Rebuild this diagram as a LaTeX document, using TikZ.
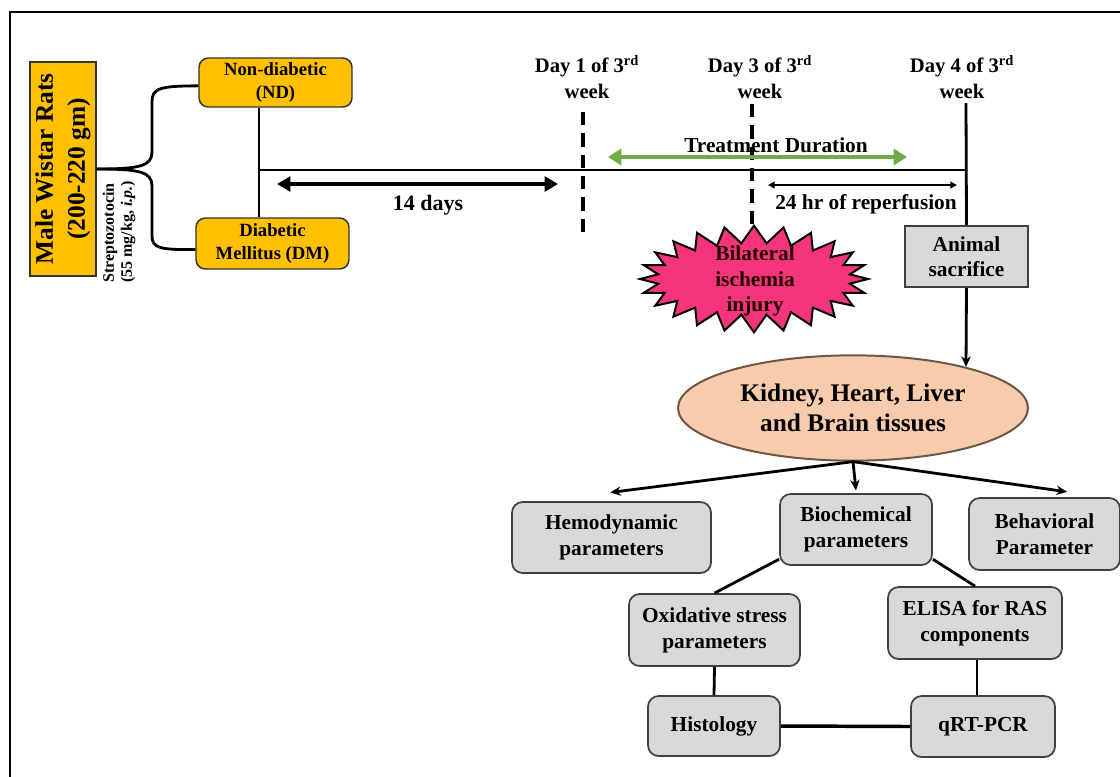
\documentclass[tikz,border=0pt]{standalone}
\usepackage{fontspec}
\setmainfont{Liberation Serif}
\usetikzlibrary{arrows.meta,shapes.geometric,shapes.symbols,calc}
\definecolor{ylw}{HTML}{FFC000}
\definecolor{boxgray}{HTML}{D9D9D9}
\definecolor{peach}{HTML}{F8CBAD}
\definecolor{peachline}{HTML}{6E5646}
\definecolor{burst}{HTML}{F5357A}
\definecolor{tgreen}{HTML}{70AD47}
\begin{document}
\begin{tikzpicture}[x=0.75pt,y=-0.75pt,
  ybox/.style={draw=black!80, fill=ylw, line width=1.1pt, rounded corners=7pt, inner sep=0pt, align=center, font=\fontsize{14}{17}\selectfont\bfseries},
  gbox/.style={draw=black!75, fill=boxgray, line width=1.3pt, rounded corners=8pt, inner sep=0pt, align=center, font=\fontsize{16}{19.5}\selectfont\bfseries},
  lbl/.style={align=center, inner sep=0pt, font=\fontsize{16}{19}\selectfont\bfseries},
  conn/.style={line width=2.1pt},
  dashln/.style={line width=2.5pt, dash pattern=on 10pt off 6pt},
  bigarrow/.style={line width=3pt, {Triangle[length=10pt,width=11pt]}-{Triangle[length=10pt,width=11pt]}},
  grarrow/.style={line width=3.2pt, draw=tgreen, {Triangle[length=10pt,width=12pt]}-{Triangle[length=10pt,width=12pt]}},
  thinarrow/.style={line width=1.3pt, {Triangle[length=5pt,width=5pt]}-{Triangle[length=5pt,width=5pt]}},
  downarrow/.style={line width=2.1pt, -{Stealth[length=8pt,width=7pt]}}
]
\useasboundingbox (0,0) rectangle (1120,776);
% frame (only top and left edges visible)
\coordinate (fTL) at (10,12);
\coordinate (fTR) at (1122,12);
\coordinate (fBL) at (10,778);
\draw[line width=2pt] (fBL) -- (fTL) -- (fTR);

% left group
\node[draw=black!80, fill=ylw, line width=1.1pt, inner sep=0pt, rotate=90, minimum width=160.5pt, minimum height=49.5pt, align=center, font=\fontsize{19}{24}\selectfont\bfseries] (mw) at (63,169) {Male Wistar Rats\\(200-220 gm)};
\node[rotate=90, anchor=west, align=left, inner sep=0pt, font=\fontsize{12}{13.5}\selectfont\bfseries] (stz) at (119,283) {Streptozotocin\\(55 mg/kg, \textit{i.p.})};
\node[ybox, minimum width=114.75pt, minimum height=36.75pt] (nd) at (275.5,82.5) {Non-diabetic\\(ND)};
\node[ybox, minimum width=114.75pt, minimum height=38.25pt] (dm) at (272.5,243.5) {Diabetic\\Mellitus (DM)};
\draw[conn] (mw.south) .. controls (140,169) and (152,166) .. (152,152) -- (152,102) .. controls (152,88) and (160,86) .. ([yshift=-2.5pt]nd.west);
\draw[conn] (mw.south) .. controls (140,169) and (152,172) .. (152,186) -- (152,236) .. controls (152,248) and (160,250) .. ([yshift=-4.5pt]dm.west);

% timeline
\coordinate (t0) at (259,170);
\coordinate (t4) at (966,170);
\draw[conn] (nd.south -| t0) -- (dm.north -| t0);
\draw[conn] (t0) -- (t4);

% 14 days
\coordinate (a14a) at (277,184);
\coordinate (a14b) at (558,184);
\draw[bigarrow] (a14a) -- (a14b);
\node[lbl, font=\fontsize{16.5}{19}\selectfont\bfseries] (l14) at (428,205) {14 days};

% day markers
\node[lbl, font=\fontsize{15.5}{19}\selectfont\bfseries] (day1) at (587,77) {Day 1 of 3\textsuperscript{rd}\\week};
\node[lbl, font=\fontsize{15.5}{19}\selectfont\bfseries] (day3) at (760,77) {Day 3 of 3\textsuperscript{rd}\\week};
\node[lbl, font=\fontsize{15.5}{19}\selectfont\bfseries] (day4) at (962,77) {Day 4 of 3\textsuperscript{rd}\\week};
\coordinate (d1a) at (583,112);
\coordinate (d1b) at (583,238);
\draw[dashln] (d1a) -- (d1b);
\coordinate (d3a) at (752,104);
\coordinate (d3b) at (752,226);
\draw[dashln] (d3a) -- (d3b);

% treatment duration
\coordinate (tda) at (608,157);
\coordinate (tdb) at (907,157);
\draw[grarrow] (tda) -- (tdb);
\node[lbl] (ltd) at (776,145) {Treatment Duration};

% reperfusion
\coordinate (rpa) at (768,185);
\coordinate (rpb) at (957,185);
\draw[thinarrow] (rpa) -- (rpb);
\node[lbl] (lrp) at (866,204) {24 hr of reperfusion};

% ischemia burst
\node[starburst, starburst points=24, starburst point height=13pt, random starburst=0, draw=black, line width=1.5pt, fill=burst, minimum width=171pt, minimum height=80pt, inner sep=0pt] (burst) at (754,279) {};
\node[lbl, text=black!85!red] (bt) at (755,281) {Bilateral\\ischemia\\injury};

% animal sacrifice
\coordinate (d4top) at (966,103);
\node[draw=black!75, fill=boxgray, line width=1.3pt, inner sep=0pt, minimum width=92.25pt, minimum height=45.75pt, align=center, font=\fontsize{16}{19}\selectfont\bfseries] (as) at (966.5,256.5) {Animal\\sacrifice};
\draw[conn] (d4top) -- (as.north);

% tissues ellipse
\node[ellipse, draw=peachline, line width=1.5pt, fill=peach, minimum width=262.5pt, minimum height=79pt, inner sep=0pt, align=center, font=\fontsize{19}{23}\selectfont\bfseries] (ell) at (853,408) {Kidney, Heart, Liver\\and Brain tissues};
\coordinate (ellTop) at (966,367);
\draw[downarrow] (as.south) -- (ellTop);

% parameter boxes
\node[gbox, minimum width=149.25pt, minimum height=53.25pt] (hemo) at (611.5,537.5) {Hemodynamic\\parameters};
\node[gbox, minimum width=114pt, minimum height=53.25pt] (bio) at (856,529.5) {Biochemical\\parameters};
\node[gbox, minimum width=113.25pt, minimum height=54pt] (beh) at (1044.5,534) {Behavioral\\Parameter};
\node[gbox, minimum width=128.25pt, minimum height=54pt] (oxi) at (714.5,630) {Oxidative stress\\parameters};
\node[gbox, minimum width=130.5pt, minimum height=54pt] (eli) at (975,623) {ELISA for RAS\\components};
\node[gbox, minimum width=99pt, minimum height=45pt] (his) at (714,726) {Histology};
\node[gbox, minimum width=108pt, minimum height=45.75pt] (qrt) at (983,726.5) {qRT-PCR};

\draw[downarrow] (ell.south) -- ([xshift=-1pt,yshift=6.5pt]hemo.north);
\draw[downarrow] (ell.south) -- ([yshift=2pt]bio.north);
\draw[downarrow] (ell.south) -- ([xshift=17pt,yshift=4pt]beh.north);

\draw[conn] ([yshift=5pt]bio.south west) -- (oxi.north);
\draw[conn] ([yshift=5pt]bio.south east) -- (eli.north);
\draw[conn] (oxi.south) -- (his.north);
\draw[conn] ([xshift=1.5pt]eli.south) -- ([xshift=1.5pt]eli.south |- qrt.north);
\draw[line width=2.6pt] (his.east) -- (qrt.west);
\end{tikzpicture}
\end{document}
